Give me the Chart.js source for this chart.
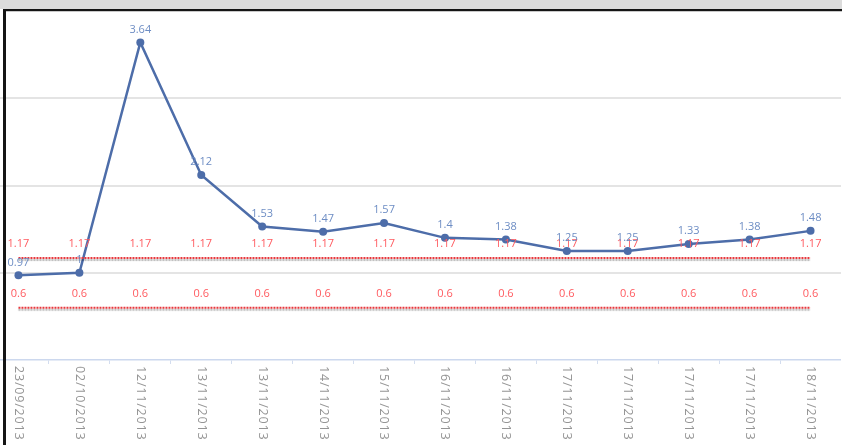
<!DOCTYPE html>
<html>
<head>
<meta charset="utf-8">
<script src="https://cdn.jsdelivr.net/npm/chart.js@4"></script>
<style>
  html, body { margin: 0; padding: 0; background: #fff; overflow: hidden; }
  #frame { position: relative; width: 842px; height: 445px; overflow: hidden; }
  #wrap { position: absolute; left: -12px; top: 0; width: 853px; height: 445px; }
  .strip { position: absolute; left: 0; top: 0; width: 842px; height: 9px; background: #dcdcdc; }
  .topline { position: absolute; left: 3px; top: 9px; width: 839px; height: 2px; background: #151515; }
  .topshade { position: absolute; left: 6px; top: 11px; width: 836px; height: 1px; background: #c8c8c8; }
  .leftline { position: absolute; left: 3px; top: 9px; width: 3px; height: 436px; background: #151515; }
</style>
</head>
<body>
<div id="frame">
  <div id="wrap"><canvas id="chart"></canvas></div>
  <div class="strip"></div>
  <div class="topline"></div>
  <div class="topshade"></div>
  <div class="leftline"></div>
</div>
<script>
const labels = ['23/09/2013', '02/10/2013', '12/11/2013', '13/11/2013', '13/11/2013', '14/11/2013', '15/11/2013',
  '16/11/2013', '16/11/2013', '17/11/2013', '17/11/2013', '17/11/2013', '17/11/2013', '18/11/2013'];
const values = [0.97, 1, 3.64, 2.12, 1.53, 1.47, 1.57, 1.4, 1.38, 1.25, 1.25, 1.33, 1.38, 1.48];
const upperLimit = [1.17, 1.17, 1.17, 1.17, 1.17, 1.17, 1.17, 1.17, 1.17, 1.17, 1.17, 1.17, 1.17, 1.17];
const lowerLimit = [0.6, 0.6, 0.6, 0.6, 0.6, 0.6, 0.6, 0.6, 0.6, 0.6, 0.6, 0.6, 0.6, 0.6];
const yTicks = [0, 1, 2, 3, 4];

const FONT = '"Open Sans", "DejaVu Sans", sans-serif';

// grey shadow under the dotted limit lines
const shadowPlugin = {
  id: 'limitShadow',
  beforeDatasetDraw(chart, args) {
    const ds = chart.data.datasets[args.index];
    if (!ds.shadow) return;
    const ctx = chart.ctx;
    ctx.save();
    ctx.shadowColor = 'rgba(0,0,0,0.3)';
    ctx.shadowOffsetY = 2;
    ctx.shadowBlur = 1;
  },
  afterDatasetDraw(chart, args) {
    const ds = chart.data.datasets[args.index];
    if (!ds.shadow) return;
    chart.ctx.restore();
  }
};

// value labels above every point
const valueLabels = {
  id: 'valueLabels',
  afterDatasetsDraw(chart) {
    const ctx = chart.ctx;
    ctx.save();
    ctx.font = '11px ' + FONT;
    ctx.textAlign = 'center';
    ctx.textBaseline = 'middle';
    chart.data.datasets.forEach((ds, di) => {
      const meta = chart.getDatasetMeta(di);
      ctx.fillStyle = ds.labelColor;
      meta.data.forEach((pt, i) => {
        ctx.fillText(String(ds.data[i]), pt.x, pt.y - ds.labelOffset);
      });
    });
    ctx.restore();
  }
};

// x labels written top to bottom
const xLabels = {
  id: 'xLabels',
  afterDraw(chart) {
    const ctx = chart.ctx;
    const xs = chart.scales.x;
    ctx.save();
    ctx.font = '12.5px ' + FONT;
    ctx.letterSpacing = '0.8px';
    ctx.fillStyle = '#959595';
    ctx.textAlign = 'left';
    ctx.textBaseline = 'middle';
    labels.forEach((lab, i) => {
      const x = xs.getPixelForValue(i);
      ctx.save();
      ctx.translate(x, xs.top + 6);
      ctx.rotate(Math.PI / 2);
      ctx.fillText(lab, 0, 0);
      ctx.restore();
    });
    ctx.restore();
  }
};

new Chart(document.getElementById('chart'), {
  type: 'line',
  data: {
    labels: labels,
    datasets: [
      {
        data: lowerLimit,
        borderColor: '#e8383d',
        borderWidth: 2,
        borderDash: [2, 1],
        pointRadius: 0,
        fill: false,
        shadow: true,
        labelColor: '#ff5a5f',
        labelOffset: 14
      },
      {
        data: upperLimit,
        borderColor: '#e8383d',
        borderWidth: 2,
        borderDash: [2, 1],
        pointRadius: 0,
        fill: false,
        shadow: true,
        labelColor: '#ff5a5f',
        labelOffset: 14
      },
      {
        data: values,
        borderColor: '#4d6da9',
        backgroundColor: '#4d6da9',
        borderWidth: 2.5,
        pointRadius: 4,
        pointBorderWidth: 0,
        tension: 0,
        fill: false,
        labelColor: '#6d8dc4',
        labelOffset: 13
      }
    ]
  },
  options: {
    responsive: true,
    maintainAspectRatio: false,
    animation: false,
    layout: { autoPadding: false, padding: { top: 11, left: 0, right: 0, bottom: 0 } },
    plugins: { legend: { display: false }, tooltip: { enabled: false } },
    scales: {
      x: {
        offset: true,
        ticks: { display: false },
        grid: { drawOnChartArea: false, drawTicks: true, tickLength: 4, offset: true, color: '#d3ddef' },
        border: { color: '#ccd8ee', width: 1.5 },
        afterFit(scale) { scale.height = 85; }
      },
      y: {
        min: yTicks[0],
        max: yTicks[yTicks.length - 1],
        afterBuildTicks(scale) { scale.ticks = yTicks.map(v => ({ value: v })); },
        ticks: { display: false },
        grid: {
          drawTicks: false,
          lineWidth: 2,
          color: ctx => (ctx.tick && ctx.tick.value > 0 && ctx.tick.value < 4) ? '#e4e4e4' : 'rgba(0,0,0,0)'
        },
        border: { display: false },
        afterFit(scale) { scale.width = 0; }
      }
    }
  },
  plugins: [shadowPlugin, valueLabels, xLabels]
});
</script>
</body>
</html>
